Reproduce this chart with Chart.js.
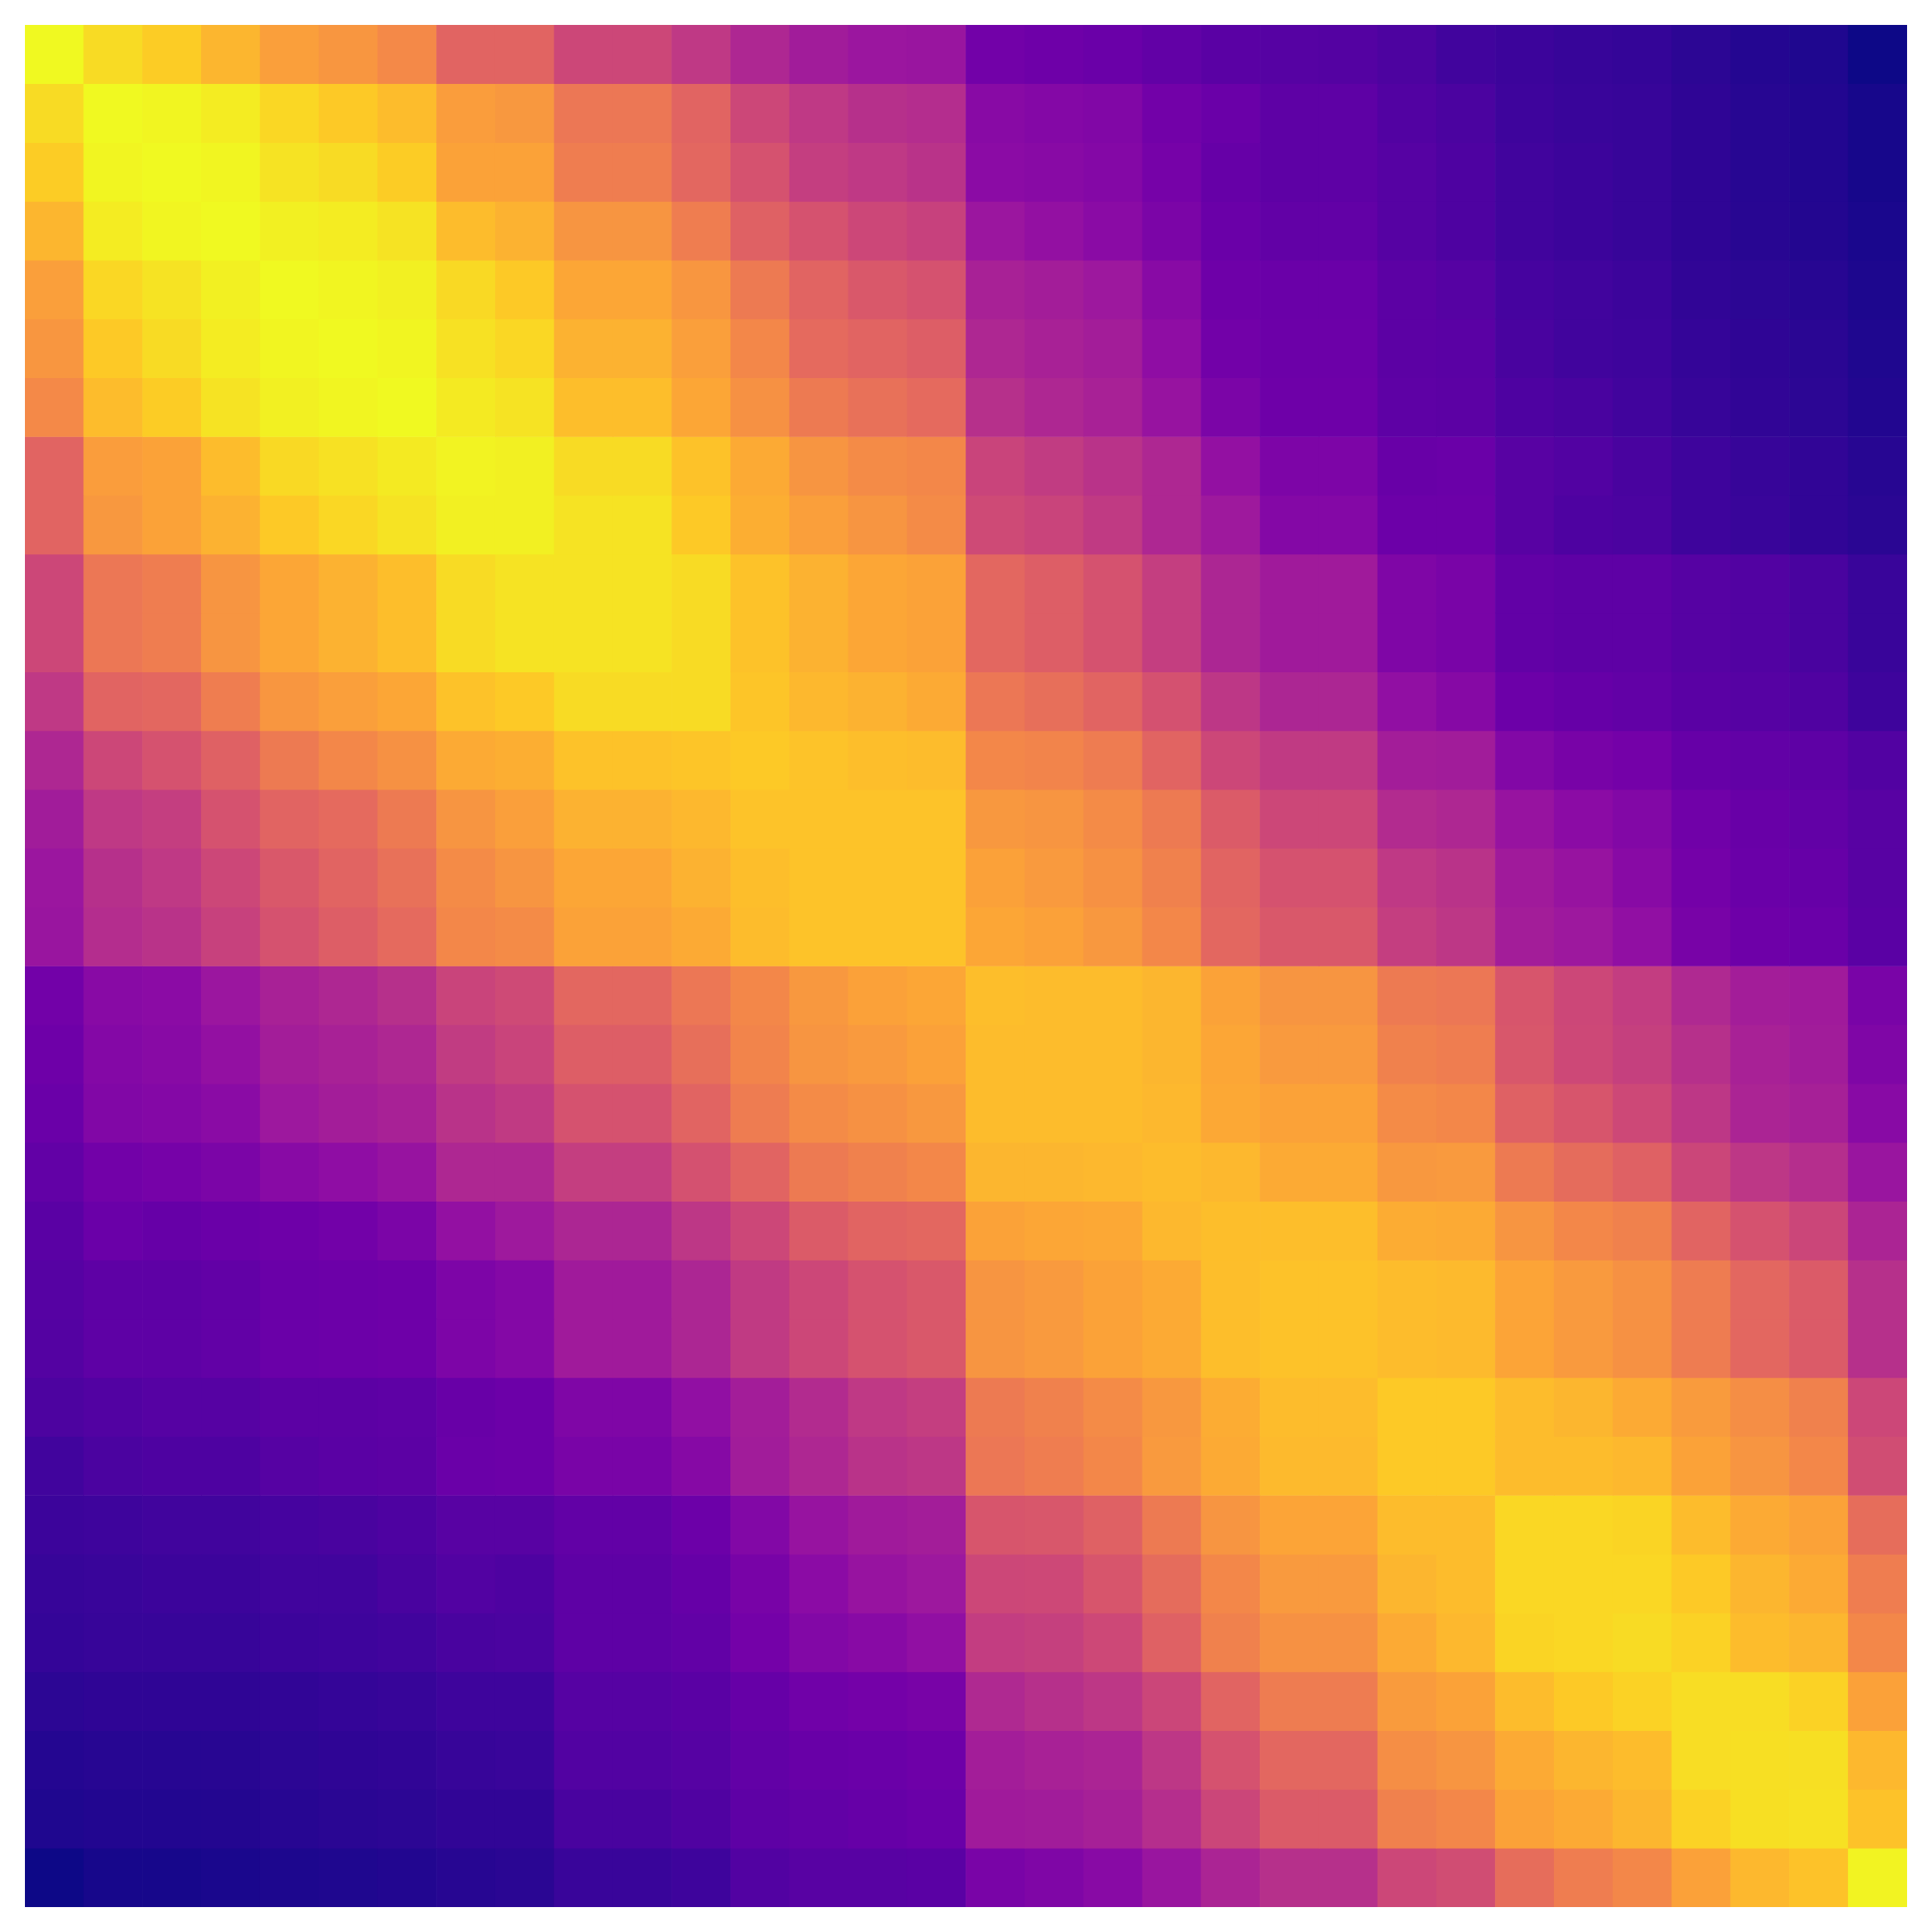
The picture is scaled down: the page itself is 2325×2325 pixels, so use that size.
<!DOCTYPE html>
<html lang="en">
<head>
  <meta charset="UTF-8">
  <title>Correlation heatmap</title>
  <script src="https://cdn.jsdelivr.net/npm/chart.js"></script>
  <style>
    body {
      margin: 0;
      padding: 0;
      background-color: #ffffff;
    }
    #chartContainer {
      width: 2325px;
      height: 2325px;
    }
  </style>
</head>
<body>
  <div id="chartContainer">
    <canvas id="heatChart" width="2325" height="2325"></canvas>
  </div>

  <script>
    // 32 variables, shown without tick labels
    const varIndex = ['0','1','2','3','4','5','6','7','8','9','10','11','12','13','14','15',
                      '16','17','18','19','20','21','22','23','24','25','26','27','28','29','30','31'];

    // upper triangle of the matrix, row r holds columns r..31 (colour scale 0..1)
    const r00 = [1.0, 0.93, 0.895, 0.84, 0.78, 0.755, 0.715, 0.6, 0.6, 0.5, 0.5, 0.45, 0.39, 0.35, 0.33, 0.325, 0.22, 0.21, 0.2, 0.18, 0.16, 0.15, 0.145, 0.125, 0.1, 0.09, 0.08, 0.075, 0.06, 0.045, 0.035, 0.0];
    const r01 = [1.0, 0.99, 0.97, 0.92, 0.89, 0.855, 0.775, 0.76, 0.66, 0.66, 0.6, 0.5, 0.45, 0.42, 0.41, 0.28, 0.27, 0.26, 0.22, 0.2, 0.17, 0.17, 0.14, 0.12, 0.095, 0.085, 0.08, 0.065, 0.05, 0.04, 0.02];
    const r02 = [1.0, 0.99, 0.95, 0.93, 0.895, 0.79, 0.79, 0.68, 0.68, 0.61, 0.54, 0.47, 0.45, 0.43, 0.29, 0.28, 0.27, 0.23, 0.19, 0.17, 0.17, 0.15, 0.13, 0.1, 0.09, 0.08, 0.065, 0.05, 0.04, 0.02];
    const r03 = [1.0, 0.98, 0.97, 0.95, 0.855, 0.83, 0.75, 0.75, 0.68, 0.59, 0.54, 0.5, 0.48, 0.33, 0.31, 0.285, 0.245, 0.2, 0.18, 0.18, 0.15, 0.13, 0.1, 0.09, 0.08, 0.065, 0.052, 0.042, 0.025];
    const r04 = [1.0, 0.99, 0.98, 0.925, 0.89, 0.8, 0.8, 0.755, 0.67, 0.6, 0.56, 0.54, 0.37, 0.355, 0.335, 0.28, 0.21, 0.2, 0.2, 0.165, 0.15, 0.11, 0.1, 0.09, 0.07, 0.06, 0.05, 0.03];
    const r05 = [1.0, 0.99, 0.945, 0.92, 0.83, 0.83, 0.78, 0.71, 0.62, 0.6, 0.58, 0.39, 0.37, 0.355, 0.3, 0.22, 0.205, 0.205, 0.165, 0.16, 0.115, 0.1, 0.095, 0.075, 0.065, 0.055, 0.035];
    const r06 = [1.0, 0.965, 0.95, 0.86, 0.86, 0.8, 0.74, 0.67, 0.64, 0.62, 0.42, 0.39, 0.37, 0.32, 0.245, 0.21, 0.21, 0.17, 0.165, 0.13, 0.115, 0.1, 0.08, 0.07, 0.06, 0.04];
    const r07 = [0.985, 0.98, 0.93, 0.93, 0.87, 0.81, 0.75, 0.72, 0.71, 0.49, 0.46, 0.43, 0.39, 0.31, 0.25, 0.25, 0.195, 0.2, 0.155, 0.14, 0.115, 0.095, 0.08, 0.07, 0.05];
    const r08 = [0.98, 0.95, 0.95, 0.89, 0.82, 0.78, 0.75, 0.72, 0.51, 0.49, 0.455, 0.39, 0.34, 0.27, 0.27, 0.205, 0.205, 0.155, 0.13, 0.12, 0.095, 0.085, 0.07, 0.055];
    const r09 = [0.95, 0.95, 0.93, 0.87, 0.83, 0.8, 0.79, 0.61, 0.58, 0.54, 0.47, 0.385, 0.345, 0.345, 0.255, 0.24, 0.18, 0.17, 0.17, 0.15, 0.14, 0.115, 0.085];
    const r10 = [0.95, 0.93, 0.87, 0.83, 0.8, 0.79, 0.61, 0.58, 0.54, 0.47, 0.385, 0.345, 0.345, 0.255, 0.24, 0.18, 0.17, 0.17, 0.15, 0.14, 0.115, 0.085];
    const r11 = [0.93, 0.88, 0.845, 0.83, 0.81, 0.66, 0.635, 0.6, 0.535, 0.445, 0.385, 0.385, 0.305, 0.275, 0.205, 0.19, 0.18, 0.16, 0.15, 0.135, 0.095];
    const r12 = [0.89, 0.875, 0.86, 0.855, 0.71, 0.7, 0.675, 0.6, 0.5, 0.455, 0.455, 0.355, 0.35, 0.265, 0.235, 0.225, 0.19, 0.18, 0.17, 0.14];
    const r13 = [0.875, 0.875, 0.875, 0.76, 0.75, 0.72, 0.67, 0.57, 0.5, 0.5, 0.405, 0.39, 0.32, 0.29, 0.265, 0.215, 0.195, 0.18, 0.155];
    const r14 = [0.875, 0.875, 0.785, 0.765, 0.74, 0.69, 0.6, 0.54, 0.54, 0.45, 0.43, 0.345, 0.32, 0.28, 0.225, 0.2, 0.19, 0.155];
    const r15 = [0.875, 0.8, 0.785, 0.76, 0.71, 0.61, 0.56, 0.56, 0.47, 0.445, 0.355, 0.335, 0.305, 0.235, 0.21, 0.2, 0.16];
    const r16 = [0.86, 0.855, 0.855, 0.84, 0.79, 0.75, 0.75, 0.67, 0.66, 0.55, 0.5, 0.465, 0.395, 0.355, 0.345, 0.24];
    const r17 = [0.855, 0.855, 0.84, 0.8, 0.765, 0.765, 0.69, 0.68, 0.555, 0.505, 0.475, 0.42, 0.37, 0.35, 0.255];
    const r18 = [0.855, 0.845, 0.805, 0.79, 0.79, 0.72, 0.71, 0.59, 0.55, 0.505, 0.445, 0.38, 0.365, 0.28];
    const r19 = [0.855, 0.845, 0.81, 0.81, 0.76, 0.765, 0.67, 0.625, 0.59, 0.495, 0.445, 0.415, 0.325];
    const r20 = [0.86, 0.86, 0.86, 0.815, 0.81, 0.75, 0.71, 0.69, 0.6, 0.54, 0.495, 0.38];
    const r21 = [0.87, 0.87, 0.855, 0.85, 0.795, 0.765, 0.74, 0.675, 0.61, 0.57, 0.42];
    const r22 = [0.87, 0.855, 0.85, 0.795, 0.765, 0.74, 0.675, 0.61, 0.57, 0.42];
    const r23 = [0.89, 0.89, 0.855, 0.84, 0.81, 0.77, 0.73, 0.69, 0.5];
    const r24 = [0.89, 0.855, 0.855, 0.845, 0.79, 0.75, 0.71, 0.52];
    const r25 = [0.92, 0.92, 0.915, 0.855, 0.81, 0.79, 0.63];
    const r26 = [0.92, 0.92, 0.89, 0.84, 0.81, 0.68];
    const r27 = [0.93, 0.91, 0.855, 0.84, 0.71];
    const r28 = [0.935, 0.935, 0.91, 0.785];
    const r29 = [0.94, 0.94, 0.845];
    const r30 = [0.945, 0.87];
    const r31 = [0.985];

    const upperRows = [r00, r01, r02, r03, r04, r05, r06, r07, r08, r09, r10, r11, r12, r13, r14, r15,
                       r16, r17, r18, r19, r20, r21, r22, r23, r24, r25, r26, r27, r28, r29, r30, r31];

    // the matrix is symmetric: fill the lower half from the upper one
    const n = varIndex.length;
    const matrix = [];
    for (let i = 0; i < n; i++) {
      matrix.push([]);
      for (let j = 0; j < n; j++) {
        matrix[i].push(j >= i ? upperRows[i][j - i] : upperRows[j][i - j]);
      }
    }

    // plasma colormap stops
    const plasmaStops = [
      [0.000, 13, 8, 135], [0.100, 65, 4, 157], [0.111, 71, 3, 159], [0.200, 106, 0, 168],
      [0.222, 115, 1, 168], [0.300, 143, 13, 164], [0.333, 156, 23, 158], [0.400, 177, 42, 144],
      [0.444, 189, 55, 134], [0.500, 204, 71, 120], [0.556, 216, 87, 107], [0.600, 225, 100, 98],
      [0.667, 237, 121, 83], [0.700, 242, 132, 75], [0.778, 250, 158, 59], [0.800, 252, 166, 54],
      [0.889, 253, 201, 38], [0.900, 252, 206, 37], [1.000, 240, 249, 33]
    ];

    function plasma(t) {
      t = Math.max(0, Math.min(1, t));
      for (let k = 1; k < plasmaStops.length; k++) {
        const a = plasmaStops[k - 1], b = plasmaStops[k];
        if (t <= b[0]) {
          const f = (t - a[0]) / (b[0] - a[0]);
          const c = [1, 2, 3].map(i => Math.round(a[i] + f * (b[i] - a[i])));
          return `rgb(${c[0]}, ${c[1]}, ${c[2]})`;
        }
      }
      return 'rgb(240, 249, 33)';
    }

    // one floating-bar dataset per matrix row, each bar spans [row, row + 1]
    const datasets = matrix.map((row, r) => ({
      label: 'row ' + r,
      data: varIndex.map(() => [r, r + 1]),
      backgroundColor: row.map(v => plasma(v)),
      borderWidth: 0,
      barPercentage: 1.0,
      categoryPercentage: 1.0,
    }));

    const heatChart = new Chart(document.getElementById('heatChart'), {
      type: 'bar',
      data: {
        labels: varIndex,
        datasets: datasets,
      },
      options: {
        responsive: false,
        devicePixelRatio: 1,
        animation: false,
        layout: {
          padding: { left: 30, top: 30, right: 30, bottom: 30 },
        },
        plugins: {
          legend: { display: false },
          tooltip: { enabled: false },
        },
        scales: {
          x: {
            stacked: true,
            display: false,
          },
          y: {
            min: 0,
            max: n,
            reverse: true,
            display: false,
          },
        },
      },
    });
  </script>
</body>
</html>
